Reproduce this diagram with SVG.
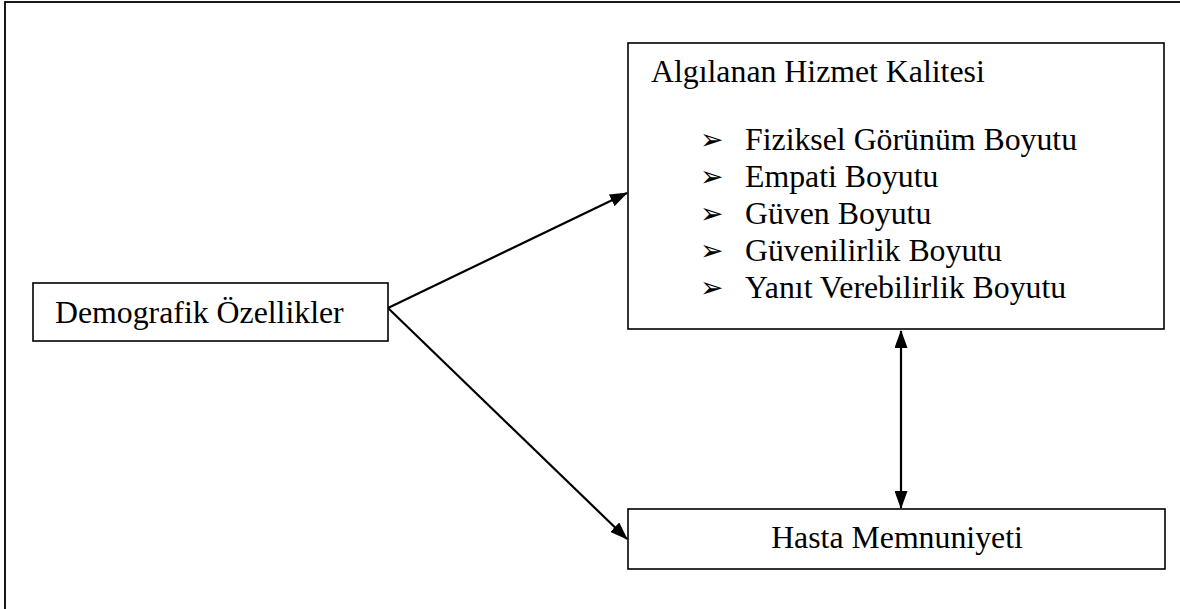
<svg xmlns="http://www.w3.org/2000/svg" width="1180" height="609" viewBox="0 0 1180 609">
<style>
.box{fill:#fff;stroke:#000;stroke-width:1.6}
.t{font-family:"Liberation Serif","Times New Roman",serif;font-size:31.8px;fill:#000}
.b{font-family:"DejaVu Sans",sans-serif;font-size:28px;fill:#000}
.c{stroke:#000;stroke-width:2.2;fill:none}
</style>
<defs>
<marker id="ah2" markerWidth="18" markerHeight="13" refX="17" refY="6.5" orient="auto-start-reverse" markerUnits="userSpaceOnUse" viewBox="0 0 18 13">
<path d="M0,0 L18,6.5 L0,13 Z" fill="#000"/>
</marker>
</defs>
<rect width="1180" height="609" fill="#fff"/>
<rect x="5" y="2" width="1200" height="640" fill="none" stroke="#000" stroke-width="1.8"/>
<g id="connectors">
<line class="c" x1="388" y1="308" x2="627" y2="193" marker-end="url(#ah2)"/>
<line class="c" x1="388" y1="308" x2="627" y2="539" marker-end="url(#ah2)"/>
<line class="c" x1="901" y1="331" x2="901" y2="508" marker-start="url(#ah2)" marker-end="url(#ah2)"/>
</g>
<g id="node-quality">
<rect class="box" x="628" y="43" width="536" height="286"/>
<text class="t" x="651" y="82">Algılanan Hizmet Kalitesi</text>
<text class="b" x="700" y="149">➢</text>
<text class="t" x="745" y="150">Fiziksel Görünüm Boyutu</text>
<text class="b" x="700" y="186">➢</text>
<text class="t" x="745" y="187">Empati Boyutu</text>
<text class="b" x="700" y="223">➢</text>
<text class="t" x="745" y="224">Güven Boyutu</text>
<text class="b" x="700" y="260">➢</text>
<text class="t" x="745" y="261">Güvenilirlik Boyutu</text>
<text class="b" x="700" y="297">➢</text>
<text class="t" x="745" y="298">Yanıt Verebilirlik Boyutu</text>
</g>
<g id="node-demo">
<rect class="box" x="33" y="283" width="355" height="58"/>
<text class="t" x="55" y="323">Demografik Özellikler</text>
</g>
<g id="node-satisfaction">
<rect class="box" x="628" y="509" width="537" height="60"/>
<text class="t" x="897" y="548" text-anchor="middle">Hasta Memnuniyeti</text>
</g>
</svg>
